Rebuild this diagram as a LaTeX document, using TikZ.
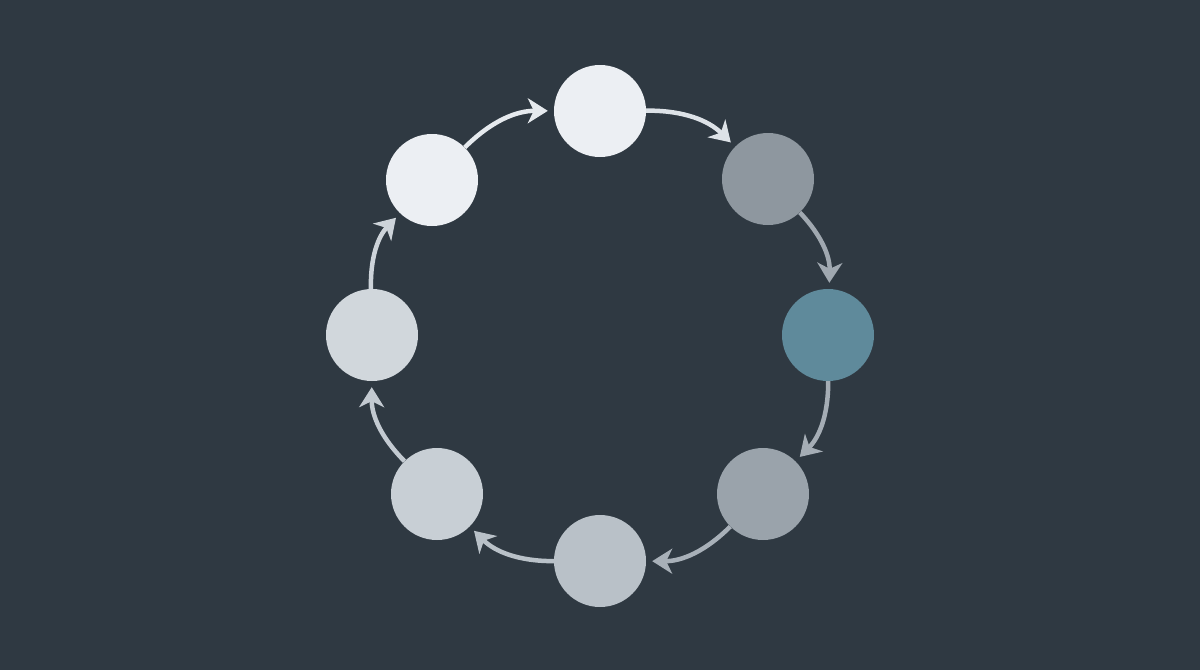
\documentclass[tikz,border=0pt]{standalone}
\usetikzlibrary{arrows.meta}
\definecolor{bg}{HTML}{2F3942}
\definecolor{cA}{HTML}{ECEFF3}
\definecolor{cB}{HTML}{ECEFF3}
\definecolor{cC}{HTML}{8E979F}
\definecolor{cD}{HTML}{5F8A9B}
\definecolor{cE}{HTML}{9AA3AB}
\definecolor{cF}{HTML}{B9C1C8}
\definecolor{cG}{HTML}{C8CFD5}
\definecolor{cH}{HTML}{D1D7DC}
\definecolor{aA}{HTML}{E6EAEE}
\definecolor{aB}{HTML}{DDE2E7}
\definecolor{aC}{HTML}{A0A8B0}
\definecolor{aD}{HTML}{A5ADB5}
\definecolor{aE}{HTML}{A8B0B8}
\definecolor{aF}{HTML}{B9C1C8}
\definecolor{aG}{HTML}{C3CAD1}
\definecolor{aH}{HTML}{CDD3D9}
\begin{document}
\begin{tikzpicture}[x=1pt,y=-1pt,
  stepnode/.style={circle,minimum size=92pt,inner sep=0pt,draw=none},
  link/.style={line width=4.5pt,-{Stealth[length=20pt,width=25pt,inset=6pt]},shorten >=6pt,bend left=22.5}]
\fill[bg] (0,0) rectangle (1200,670);
\useasboundingbox (0,0) rectangle (1200,670);
\node[stepnode,fill=cA] (n1) at (432,180) {};
\node[stepnode,fill=cB] (n2) at (600,111) {};
\node[stepnode,fill=cC] (n3) at (768,179) {};
\node[stepnode,fill=cD] (n4) at (828,335) {};
\node[stepnode,fill=cE] (n5) at (763,494) {};
\node[stepnode,fill=cF] (n6) at (600,561) {};
\node[stepnode,fill=cG] (n7) at (437,494) {};
\node[stepnode,fill=cH] (n8) at (372,335) {};
\draw[link,draw=aA] (n1) to (n2);
\draw[link,draw=aB] (n2) to (n3);
\draw[link,draw=aC] (n3) to (n4);
\draw[link,draw=aD] (n4) to (n5);
\draw[link,draw=aE] (n5) to (n6);
\draw[link,draw=aF] (n6) to (n7);
\draw[link,draw=aG] (n7) to (n8);
\draw[link,draw=aH] (n8) to (n1);
\end{tikzpicture}
\end{document}
